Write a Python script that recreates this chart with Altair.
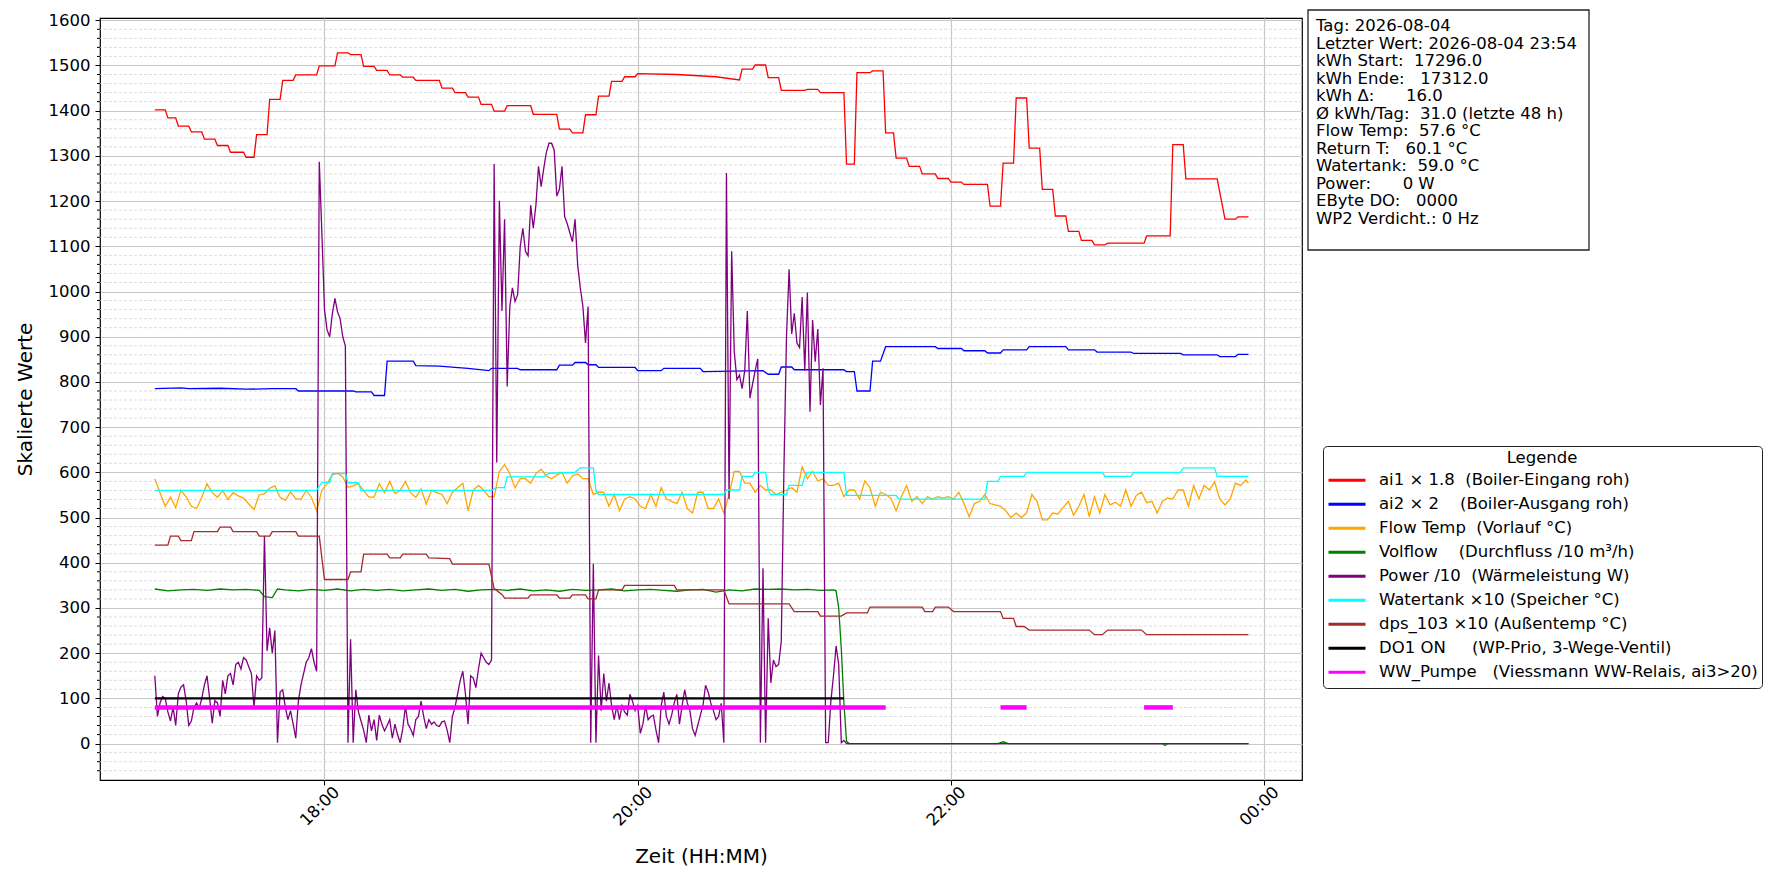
import altair as alt
import pandas as pd

DAY = "2026-08-04"
NB = "\u00a0"

LABELS = [
    "ai1 × 1.8  (Boiler-Eingang roh)",
    "ai2 × 2    (Boiler-Ausgang roh)",
    "Flow Temp  (Vorlauf °C)",
    "Volflow    (Durchfluss /10 m³/h)",
    "Power /10  (Wärmeleistung W)",
    "Watertank ×10 (Speicher °C)",
    "dps_103 ×10 (Außentemp °C)",
    "DO1 ON     (WP-Prio, 3-Wege-Ventil)",
    "WW_Pumpe   (Viessmann WW-Relais, ai3>20)",
]
COLORS = ["#ff0000", "#0000ff", "#ffa500", "#008000", "#800080",
          "#00ffff", "#a52a2a", "#000000", "#ff00ff"]

INFO_LINES = [
    "Tag: 2026-08-04",
    "Letzter Wert: 2026-08-04 23:54",
    "kWh Start:  17296.0",
    "kWh Ende:   17312.0",
    "kWh Δ:      16.0",
    "Ø kWh/Tag:  31.0 (letzte 48 h)",
    "Flow Temp:  57.6 °C",
    "Return T:   60.1 °C",
    "Watertank:  59.0 °C",
    "Power:      0 W",
    "EByte DO:   0000",
    "WP2 Verdicht.: 0 Hz",
]

# ---------------- ai1 x 1.8 (red) ----------------
ai1_time = ["16:55","16:59","17:00","17:03","17:04","17:08","17:09","17:13","17:14","17:18",
            "17:19","17:23","17:24","17:29","17:30","17:33","17:34","17:38","17:39","17:43",
            "17:44","17:48","17:49","17:57","17:58","18:04","18:05","18:09","18:10","18:14",
            "18:15","18:19","18:20","18:24","18:25","18:29","18:30","18:34","18:35","18:44",
            "18:45","18:49","18:50","18:54","18:55","18:59","19:00","19:04","19:05","19:09",
            "19:10","19:19","19:20","19:29","19:30","19:34","19:35","19:39","19:40","19:44",
            "19:45","19:49","19:50","19:54","19:55","19:59","20:00","20:15","20:30","20:39",
            "20:40","20:44","20:45","20:49","20:50","20:54","20:55","21:04","21:05","21:09",
            "21:10","21:19","21:20","21:23","21:24","21:29","21:30","21:34","21:35","21:38",
            "21:39","21:43","21:44","21:48","21:49","21:54","21:55","21:59","22:00","22:04",
            "22:05","22:14","22:15","22:19","22:20","22:24","22:25","22:29","22:30","22:34",
            "22:35","22:39","22:40","22:44","22:45","22:49","22:50","22:54","22:55","22:59",
            "23:00","23:14","23:15","23:24","23:25","23:29","23:30","23:42","23:45","23:49",
            "23:50","23:54"]
ai1_val = [1402,1402,1384,1384,1366,1366,1353,1353,1337,1337,
           1323,1323,1308,1308,1297,1297,1347,1347,1425,1425,
           1467,1467,1479,1479,1499,1499,1528,1528,1524,1524,
           1498,1498,1489,1489,1479,1479,1474,1474,1467,1467,
           1450,1450,1440,1440,1430,1430,1414,1414,1399,1399,
           1411,1411,1392,1392,1359,1359,1351,1351,1391,1391,
           1432,1432,1465,1465,1475,1475,1482,1480,1475,1468,
           1492,1492,1501,1501,1473,1473,1445,1445,1447,1447,
           1440,1440,1282,1282,1484,1484,1488,1488,1351,1351,
           1295,1295,1277,1277,1260,1260,1250,1250,1242,1242,
           1237,1237,1189,1189,1284,1284,1428,1428,1317,1317,
           1226,1226,1167,1167,1133,1133,1113,1113,1103,1103,
           1107,1107,1123,1123,1325,1325,1249,1249,1160,1160,
           1165,1165]

# ---------------- ai2 x 2 (blue) ----------------
ai2_time = ["16:55","17:05","17:08","17:20","17:30","17:40","17:49","17:50","18:11","18:12",
            "18:18","18:19","18:23","18:24","18:34","18:35","18:44","18:50","18:55","19:03",
            "19:04","19:14","19:15","19:29","19:30","19:35","19:36","19:40","19:41","19:44",
            "19:45","19:59","20:00","20:09","20:10","20:24","20:25","20:48","20:50","20:54",
            "20:55","20:59","21:00","21:19","21:20","21:23","21:24","21:29","21:30","21:33",
            "21:35","21:54","21:55","22:04","22:05","22:13","22:14","22:19","22:20","22:29",
            "22:30","22:44","22:45","22:55","22:56","23:09","23:10","23:28","23:29","23:42",
            "23:43","23:49","23:50","23:54"]
ai2_val = [785,787,785,786,784,785,785,780,780,778,
           778,770,770,846,846,836,835,832,830,825,
           830,830,827,827,837,837,843,843,838,838,
           832,832,825,825,830,830,823,825,817,817,
           833,833,827,827,823,823,780,780,846,846,
           878,878,874,874,869,869,864,864,871,871,
           878,878,871,871,866,866,863,863,860,860,
           856,856,861,861]

# ---------------- Flow Temp (orange), one reading every 2 min from 16:55 ----------------
flow_val = [586,555,525,545,522,560,546,525,520,545,575,555,545,560,540,555,548,543,530,518,
            550,553,565,570,545,538,557,542,540,560,545,515,560,575,595,598,590,567,570,575,
            560,545,545,575,555,580,553,560,580,555,545,563,530,560,555,
            551,531,556,566,576,515,561,571,561,546,546,602,617,597,566,586,586,576,597,607,
            592,586,594,600,576,592,597,586,586,551,556,556,525,551,515,541,546,541,525,520,
            551,525,566,541,536,531,556,520,510,556,556,520,520,541,510,551,
            602,602,576,576,556,571,561,561,551,556,561,566,556,612,586,602,581,586,571,571,
            576,546,561,561,541,581,566,525,556,551,543,515,546,571,536,546,531,546,541,546,
            543,546,541,556,531,502,531,536,551,531,528,525,515,500,510,
            500,510,551,536,495,495,510,508,522,536,505,525,551,502,546,510,551,528,534,525,
            561,525,549,556,533,536,510,536,543,541,561,561,525,571,541,571,561,579,541,528,
            541,576,571,583]
flow_last = ("23:54", 576)

# ---------------- Volflow (green) ----------------
vol_time = ["16:55","17:00","17:05","17:10","17:15","17:20","17:25","17:30","17:35","17:37",
            "17:40","17:42","17:45","17:50","17:55","18:00","18:05","18:10","18:15","18:20",
            "18:25","18:30","18:35","18:40","18:45","18:50","18:55","19:00","19:05","19:10",
            "19:15","19:20","19:25","19:30","19:35","19:40","19:45","19:50","19:55","20:00",
            "20:05","20:10","20:15","20:20","20:25","20:30","20:35","20:40","20:45","20:50",
            "20:55","21:00","21:05","21:10","21:15","21:16","21:17","21:18","21:19","21:20",
            "21:21","22:18","22:20","22:22","23:21","23:22","23:23","23:54"]
vol_val = [342,338,340,341,339,342,340,341,339,325,
           323,342,340,338,341,339,342,338,341,339,
           341,338,340,342,339,341,337,340,341,339,
           342,338,340,337,341,339,340,342,338,340,
           341,339,337,340,341,335,340,338,342,341,
           342,340,341,339,340,338,300,210,90,5,
           0,0,4,0,0,-4,0,0]

# ---------------- Power / 10 (purple), one reading per minute from 16:55 ----------------
power_val = [150,60,90,104,100,70,50,80,40,110,
             125,130,95,40,50,80,90,78,100,130,
             150,100,45,95,90,60,140,110,150,155,
             130,175,180,165,190,185,170,155,80,150,
             140,145,459,205,256,200,250,2,114,119,
             80,53,73,43,12,94,130,155,180,190,
             210,180,160,1287,1130,960,915,900,950,985,
             955,940,900,880,2,231,2,119,70,50,
             30,2,63,28,53,7,63,43,28,40,
             53,12,43,20,2,33,83,43,33,18,
             53,60,94,60,33,53,43,48,40,38,
             48,50,30,2,60,80,110,140,160,110,
             43,150,145,124,165,200,190,180,175,185,
             1282,622,1201,957,1160,790,967,1008,978,993,
             1100,1140,1089,1079,1191,1140,1191,1277,1232,1272,
             1308,1328,1328,1313,1211,1226,1277,1166,1150,1130,
             1110,1160,1059,1008,967,886,967,2,398,2,
             195,73,155,94,134,84,53,84,53,84,
             70,63,109,94,73,84,23,43,84,53,
             60,63,30,2,84,114,60,43,63,90,
             109,43,84,119,90,73,33,18,40,63,
             84,129,114,90,73,53,60,89,2,1262,
             541,1089,866,805,815,785,825,957,764,795,
             825,851,2,388,2,277,134,185,170,175,
             226,600,900,1049,906,952,886,876,988,825,
             998,734,937,845,917,749,830,2,2,94,
             150,216,175,2,7,0]
power_last = ("23:54", 0)

# ---------------- Watertank x10 (cyan) ----------------
tank_time = ["16:55","17:57","17:59","18:02","18:03","18:08","18:09","18:13","18:14","19:04",
             "19:06","19:09","19:10","19:24","19:26","19:36","19:38","19:43","19:44","19:45",
             "20:33","20:34","20:39","20:40","20:44","20:45","20:49","20:50","20:51","20:57",
             "20:58","21:03","21:04","21:05","21:19","21:20","21:39","21:40","22:13","22:14",
             "22:18","22:19","22:28","22:29","22:58","22:59","23:09","23:10","23:28","23:29",
             "23:41","23:42","23:54"]
tank_val = [560,560,578,578,597,597,577,577,560,560,
            566,566,590,590,598,600,610,610,560,551,
            551,561,561,591,591,600,600,561,551,551,
            571,571,591,600,600,549,549,541,541,580,
            580,591,591,600,600,591,591,600,600,610,
            610,591,591]

# ---------------- dps_103 x10 (brown) ----------------
dps_time = ["16:55","17:00","17:01","17:04","17:05","17:09","17:10","17:19","17:20","17:24",
            "17:25","17:34","17:35","17:39","17:40","17:49","17:50","17:58","18:00","18:09",
            "18:10","18:14","18:15","18:24","18:25","18:29","18:30","18:39","18:40","18:48",
            "18:49","19:03","19:05","19:08","19:09","19:18","19:19","19:29","19:30","19:34",
            "19:35","19:40","19:41","19:44","19:45","19:54","19:55","20:14","20:15","20:33",
            "20:35","20:58","21:00","21:09","21:10","21:18","21:20","21:28","21:29","21:49",
            "21:50","21:53","21:54","21:59","22:01","22:19","22:20","22:24","22:25","22:28",
            "22:30","22:53","22:55","22:58","23:00","23:13","23:15","23:54"]
dps_val = [439,439,459,459,449,449,469,469,479,479,
           469,469,459,459,469,469,459,459,363,363,
           380,380,419,419,411,411,419,419,411,409,
           397,397,343,330,322,322,329,329,322,322,
           329,329,320,320,340,340,350,350,340,340,
           309,309,292,292,282,282,289,289,302,302,
           292,292,302,302,292,292,277,277,259,259,
           251,251,241,241,251,251,241,241]

# ---------------- DO1 ON (black) and WW pump (magenta) on/off periods ----------------
do1_on = [("16:55", "21:19")]
do1_level = 100
ww_on = [("16:55", "21:35"), ("22:19", "22:29"), ("23:14", "23:25")]
ww_level = 80

Y_MINOR = [v for v in range(-60, 1601, 20) if v % 100 != 0]
Y_MAJOR = list(range(0, 1601, 100))


def nb(s):
    return s.replace(" ", NB)


rows = []


def add(label_idx, times, values, seg=0):
    for t, v in zip(times, values):
        rows.append({"time": f"{DAY}T{t}:00", "value": v,
                     "series": nb(LABELS[label_idx]), "seg": seg})


add(0, ai1_time, ai1_val)
add(1, ai2_time, ai2_val)
ft = list(pd.date_range(f"{DAY} 16:55", periods=len(flow_val), freq="2min").strftime("%H:%M"))
add(2, ft + [flow_last[0]], flow_val + [flow_last[1]])
add(3, vol_time, vol_val)
pt = list(pd.date_range(f"{DAY} 16:55", periods=len(power_val), freq="1min").strftime("%H:%M"))
add(4, pt + [power_last[0]], power_val + [power_last[1]])
add(5, tank_time, tank_val)
add(6, dps_time, dps_val)
for i, (a, b) in enumerate(do1_on):
    add(7, [a, b], [do1_level, do1_level], seg=i)
for i, (a, b) in enumerate(ww_on):
    add(8, [a, b], [ww_level, ww_level], seg=i)

df = pd.DataFrame(rows)

LBL = [nb(s) for s in LABELS]
WIDTH_BY = {0: 1.3, 1: 1.3, 2: 1.3, 3: 1.3, 4: 1.3, 5: 1.3, 6: 1.3, 7: 2.2, 8: 4.5}

FONT = "DejaVu Sans"
FS = 16.5
W, H = 1202, 762

xscale = alt.Scale(domain=[alt.DateTime(year=2026, month=8, date=4, hours=16, minutes=34),
                           alt.DateTime(year=2026, month=8, date=5, hours=0, minutes=14, seconds=30)])
yscale = alt.Scale(domain=[-80.5, 1605], nice=False, zero=False)

xaxis = alt.Axis(
    values=[alt.DateTime(year=2026, month=8, date=4, hours=18),
            alt.DateTime(year=2026, month=8, date=4, hours=20),
            alt.DateTime(year=2026, month=8, date=4, hours=22),
            alt.DateTime(year=2026, month=8, date=5, hours=0)],
    format="%H:%M", labelAngle=-45, labelAlign="center", labelBaseline="middle",
    labelPadding=21, labelOffset=-5, title="Zeit (HH:MM)", titlePadding=18,
)
yaxis = alt.Axis(values=Y_MAJOR, format="d", title="Skalierte Werte",
                 titlePadding=13, labelPadding=5)

X = alt.X("time:T", scale=xscale, axis=xaxis)
Y = alt.Y("value:Q", scale=yscale, axis=yaxis)

legend = alt.Legend(
    title="Legende", orient="none", legendX=1223, legendY=428,
    symbolType="stroke", symbolSize=1369, symbolStrokeWidth=3,
    clipHeight=23.5, rowPadding=0, labelLimit=800, labelOffset=12,
    labelFontSize=FS, labelFont=FONT, labelColor="black",
    titleFontSize=FS, titleFont=FONT, titleFontWeight="normal", titleColor="black",
    titleAnchor="middle", titlePadding=2,
    strokeColor="#222222", fillColor="white", cornerRadius=4, padding=4,
)
COLOR = alt.Color("series:N", scale=alt.Scale(domain=LBL, range=COLORS), legend=legend)

minor_df = pd.DataFrame({"value": Y_MINOR})
minor_grid = alt.Chart(minor_df).mark_rule(
    color="#d4d4d4", strokeWidth=0.8, strokeDash=[3, 2]).encode(y=Y)
minor_ticks = alt.Chart(minor_df).mark_rule(color="black", strokeWidth=1).encode(
    y=Y, x=alt.value(-3), x2=alt.value(0))

line_layers = []
for i, lab in enumerate(LBL):
    line_layers.append(
        alt.Chart(df).transform_filter(alt.FieldEqualPredicate(field="series", equal=lab))
        .mark_line(strokeWidth=WIDTH_BY[i], interpolate="linear")
        .encode(x=X, y=Y, color=COLOR, detail="seg:N")
    )

info_df = pd.DataFrame({"txt": ["\n".join(nb(s) for s in INFO_LINES)]})
info_box = alt.Chart(info_df).mark_rect(fill="white", stroke="#222222", strokeWidth=1.3).encode(
    x=alt.value(1208), x2=alt.value(1489), y=alt.value(-8), y2=alt.value(232))
info_text = alt.Chart(info_df).mark_text(
    align="left", baseline="top", lineBreak="\n", lineHeight=17.5,
    fontSize=FS, font=FONT, color="black").encode(
    x=alt.value(1216), y=alt.value(0), text="txt:N")

chart = alt.layer(minor_grid, minor_ticks, *line_layers, info_box, info_text).properties(
    width=W, height=H,
    padding={"left": 7, "top": 1, "right": 5, "bottom": 5},
).configure_view(stroke="black", strokeWidth=1.2).configure_axis(
    domain=False, tickColor="black", tickSize=5, tickWidth=1,
    labelFont=FONT, labelFontSize=FS, labelColor="black",
    titleFont=FONT, titleFontSize=20, titleFontWeight="normal", titleColor="black",
    gridColor="#c8c8c8", gridWidth=1.2,
)

chart.save("out.html", embed_options={"renderer": "svg", "actions": False})
